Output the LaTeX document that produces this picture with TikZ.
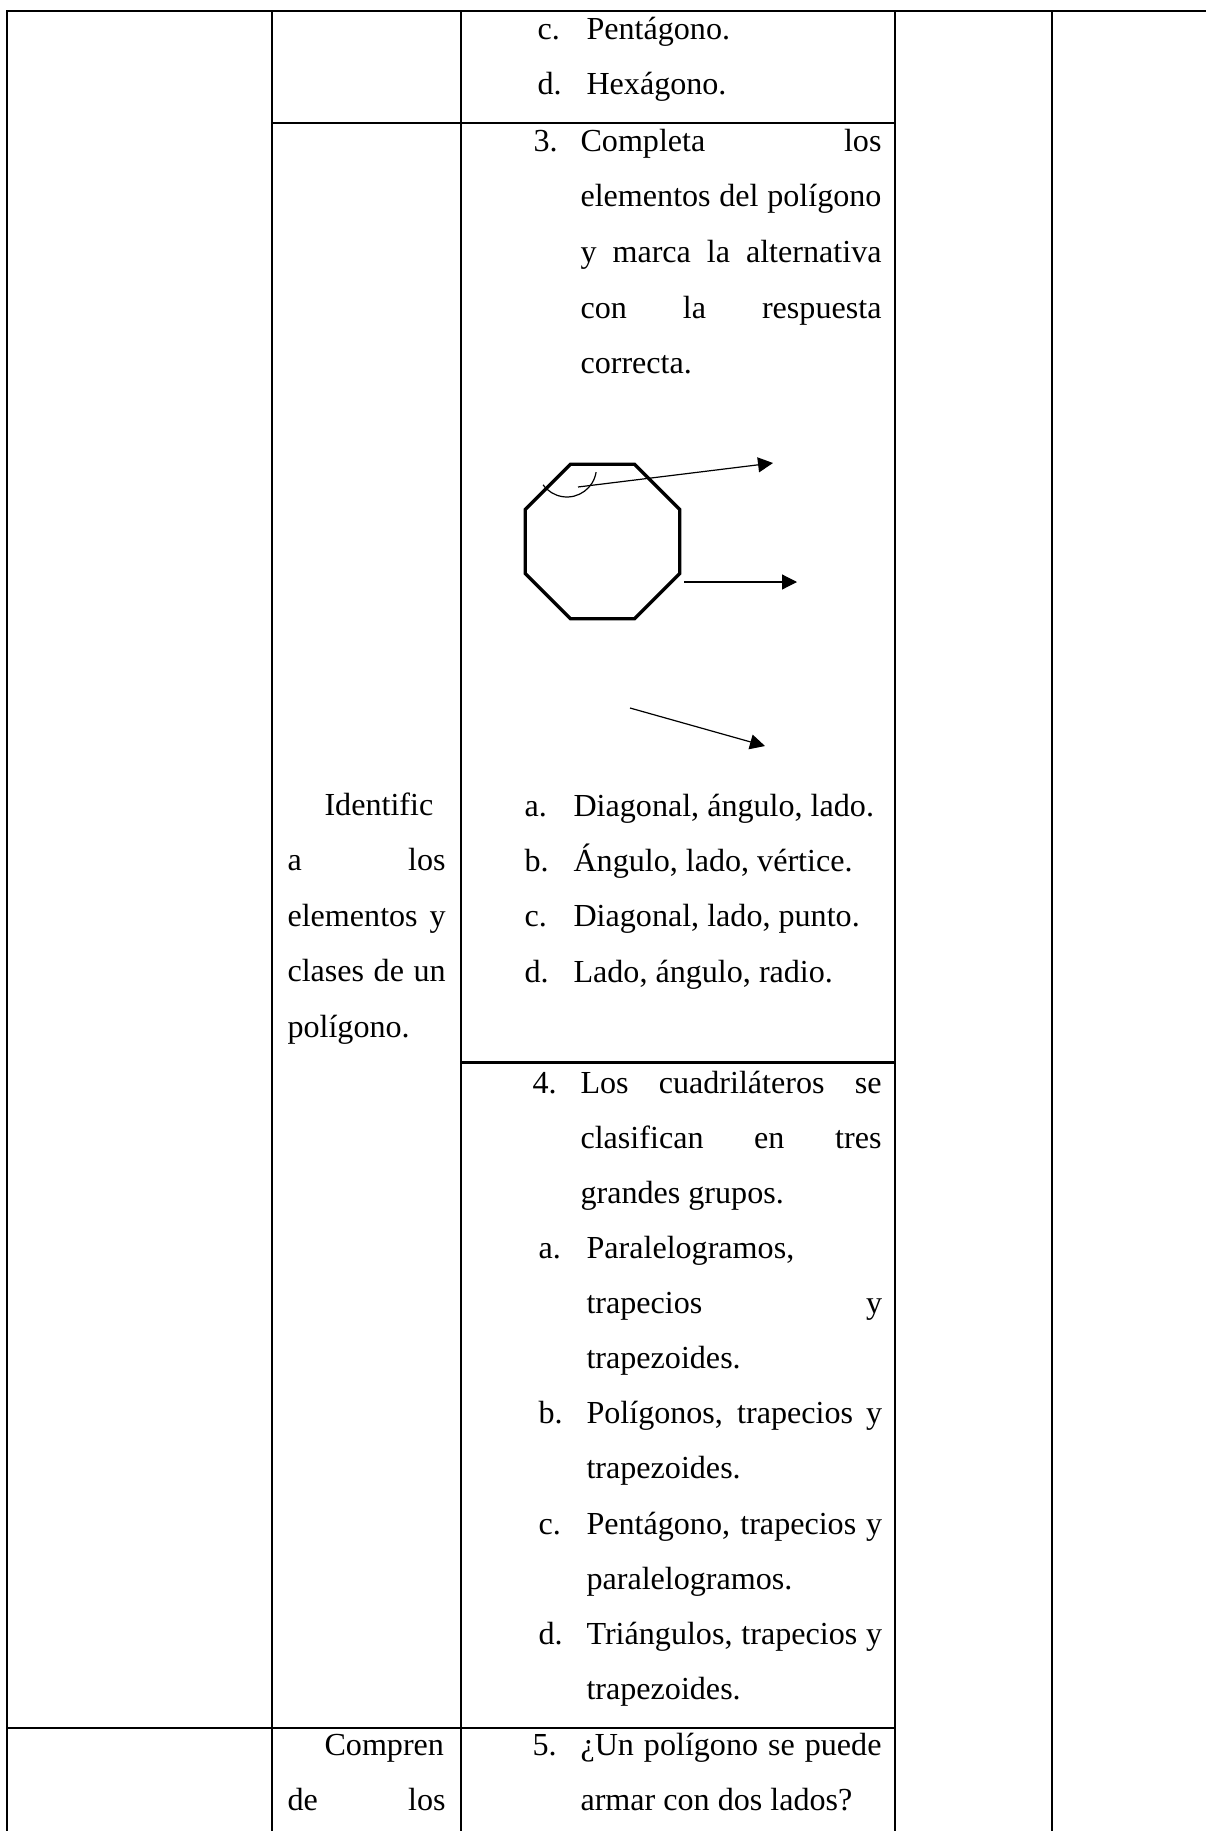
\documentclass[tikz,border=0pt]{standalone}
\usepackage{fontspec}
\setmainfont{Liberation Serif}
\usetikzlibrary{arrows.meta,shapes.geometric}

% widths of the justified lines
\newlength{\wcolq}\setlength{\wcolq}{112.5pt}
\newlength{\wcolopt}\setlength{\wcolopt}{110.5pt}
\newlength{\wcolcap}\setlength{\wcolcap}{59.1pt}
\newcommand{\jline}[2]{\makebox[#1][s]{#2}}

\tikzset{
  txt/.style={anchor=base west, inner sep=0pt, font=\fontsize{12pt}{20.67pt}\selectfont},
  rule/.style={line width=0.8pt},
  pointer/.style={line width=0.45pt, -{Triangle[length=5.6pt,width=5.6pt]}},
}

\begin{document}
\begin{tikzpicture}[x=0.3738pt,y=-0.3738pt]
    \useasboundingbox (0,0) rectangle (1206,1831);

    % Table rules
    \draw[rule] (7,1831) -- (7,11) -- (1206,11);
    \foreach \x in {271.7,461,895,1052}
        \draw[rule] (\x,11) -- (\x,1831);
    \draw[rule] (271.7,122.7) -- (895,122.7);
    \draw[rule] (461,1062.5) -- (895,1062.5);
    \draw[rule] (7,1728) -- (895,1728);

    % End of question 2
    \node[txt] (q2c) at (537,40) {c.};
    \node[txt] (q2ct) at (586,40) {Pentágono.};
    \node[txt] (q2d) at (537,95) {d.};
    \node[txt] (q2dt) at (586,95) {Hexágono.};

    % Question 3
    \node[txt] (q3num) at (533,152) {3.};
    \node[txt] (q3l1) at (580,152) {\jline{\wcolq}{Completa los}};
    \node[txt] (q3l2) at (580,207) {\jline{\wcolq}{elementos del polígono}};
    \node[txt] (q3l3) at (580,262) {\jline{\wcolq}{y marca la alternativa}};
    \node[txt] (q3l4) at (580,318) {\jline{\wcolq}{con la respuesta}};
    \node[txt] (q3l5) at (580,373) {correcta.};

    % Octagon with its pointers
    \node[draw, line width=1.25pt, regular polygon, regular polygon sides=8,
          minimum size=62.5pt, inner sep=0pt] (octo) at (602.5,541.5) {};
    \draw[line width=0.45pt] (596.1,472.1) arc[start angle=9, end angle=144, radius=29.5];
    \coordinate (angS) at (578,487);
    \coordinate (angE) at (773,463);
    \coordinate (sideS) at (684,582);
    \coordinate (sideE) at (797,582);
    \coordinate (vertS) at (630,708);
    \coordinate (vertE) at (765,746);
    \draw[pointer] (angS) -- (angE);
    \draw[pointer] (sideS) -- (sideE);
    \draw[pointer] (vertS) -- (vertE);

    \node[txt] (q3a) at (524,816) {a.};
    \node[txt] (q3at) at (573,816) {Diagonal, ángulo, lado.};
    \node[txt] (q3b) at (524,871) {b.};
    \node[txt] (q3bt) at (573,871) {Ángulo, lado, vértice.};
    \node[txt] (q3c) at (524,926.5) {c.};
    \node[txt] (q3ct) at (573,926.5) {Diagonal, lado, punto.};
    \node[txt] (q3d) at (524,982) {d.};
    \node[txt] (q3dt) at (573,982) {Lado, ángulo, radio.};

    % Capacity, second column
    \node[txt] (cap1) at (324,815) {Identific};
    \node[txt] (cap2) at (287,870.5) {\jline{\wcolcap}{a los}};
    \node[txt] (cap3) at (287,926) {\jline{\wcolcap}{elementos y}};
    \node[txt] (cap4) at (287,981.5) {\jline{\wcolcap}{clases de un}};
    \node[txt] (cap5) at (287,1037) {polígono.};

    % Question 4
    \node[txt] (q4num) at (532,1093) {4.};
    \node[txt] (q4l1) at (580,1093) {\jline{\wcolq}{Los cuadriláteros se}};
    \node[txt] (q4l2) at (580,1148) {\jline{\wcolq}{clasifican en tres}};
    \node[txt] (q4l3) at (580,1203) {grandes grupos.};
    \node[txt] (q4a) at (538,1258) {a.};
    \node[txt] (q4a1) at (586,1258) {Paralelogramos,};
    \node[txt] (q4a2) at (586,1313) {\jline{\wcolopt}{trapecios y}};
    \node[txt] (q4a3) at (586,1368) {trapezoides.};
    \node[txt] (q4b) at (538,1423) {b.};
    \node[txt] (q4b1) at (586,1423) {\jline{\wcolopt}{Polígonos, trapecios y}};
    \node[txt] (q4b2) at (586,1478) {trapezoides.};
    \node[txt] (q4c) at (538,1534) {c.};
    \node[txt] (q4c1) at (586,1534) {\jline{\wcolopt}{Pentágono, trapecios y}};
    \node[txt] (q4c2) at (586,1589) {paralelogramos.};
    \node[txt] (q4d) at (538,1644) {d.};
    \node[txt] (q4d1) at (586,1644) {\jline{\wcolopt}{Triángulos, trapecios y}};
    \node[txt] (q4d2) at (586,1699) {trapezoides.};

    % Question 5 and its capacity
    \node[txt] (cap6) at (324,1755) {Compren};
    \node[txt] (cap7) at (287,1810) {\jline{\wcolcap}{de los}};
    \node[txt] (q5num) at (532,1755) {5.};
    \node[txt] (q5l1) at (580,1755) {\jline{\wcolq}{¿Un polígono se puede}};
    \node[txt] (q5l2) at (580,1810) {armar con dos lados?};
\end{tikzpicture}
\end{document}
